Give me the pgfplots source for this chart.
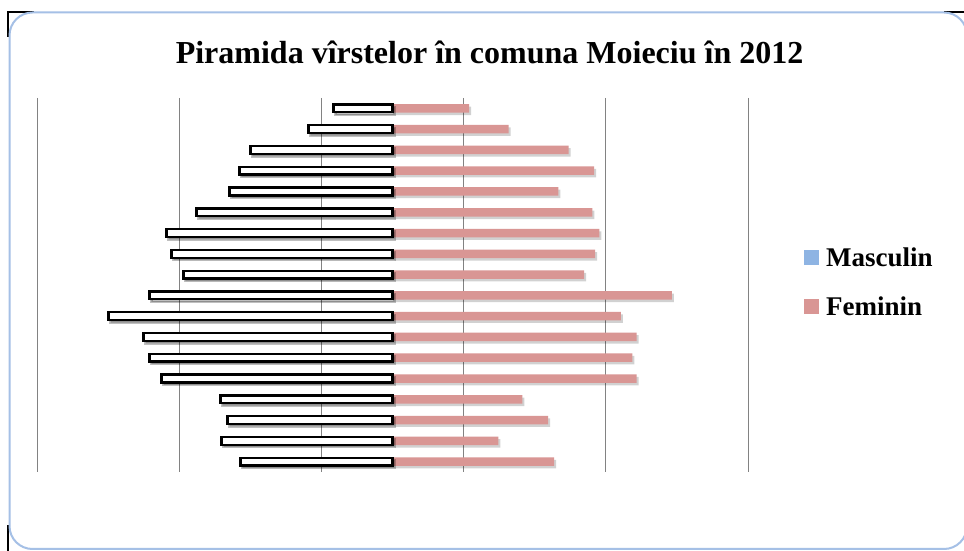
\documentclass[border=0pt]{standalone}
\usepackage{fontspec}
\setmainfont{Liberation Serif}
\usepackage{pgfplots}
\pgfplotsset{compat=1.18}
\usetikzlibrary{shadows}
\definecolor{fem}{RGB}{217,150,148}
\definecolor{masc}{RGB}{142,180,227}
\definecolor{framec}{RGB}{165,192,230}
\definecolor{gridc}{RGB}{130,130,130}
\begin{document}
\begin{tikzpicture}[x=1pt,y=1pt]
\useasboundingbox (0,0) rectangle (964,551);
\fill[white] (0,0) rectangle (964,551);
\draw[black, line width=1.5pt] (8,514) -- (8,539) -- (34,539);
\draw[black, line width=1.5pt] (944,539) -- (966,539);
\draw[black, line width=1.5pt] (8,0) -- (8,26);
\draw[framec, line width=2pt, fill=white, rounded corners=23pt] (9.5,2) rectangle (967,538.5);
\node[anchor=base, font=\fontsize{32}{38}\selectfont\bfseries, inner sep=0pt] at (489.5,487) {Piramida vîrstelor în comuna Moieciu în 2012};
\begin{axis}[
  at={(37pt,79pt)}, anchor=south west,
  scale only axis, width=711pt, height=374pt,
  xmin=-250, xmax=250, ymin=0.5, ymax=18.5, y dir=reverse,
  xtick={-250,-150,-50,50,150,250}, xticklabels={}, ytick=\empty,
  xmajorgrids, grid style={line width=1pt, color=gridc},
  axis line style={draw=none}, major tick length=0pt,
  clip=false,
  legend cell align=left,
  legend image code/.code={\fill[#1, draw=none] (0pt,-7.5pt) rectangle (15pt,7.5pt);},
  legend style={at={(axis description cs:1.0788,0.600)}, anchor=north west,
    draw=none, fill=none, inner sep=0pt, outer sep=0pt,
    font=\fontsize{27}{32}\selectfont\bfseries,
    column sep=7pt, row sep=28.6pt, nodes={inner sep=0pt}},
]
\addplot[xbar, bar width=8.5pt, bar shift=0pt, fill=fem, draw=none,
  drop shadow={shadow xshift=2pt, shadow yshift=-2.5pt, fill=black, opacity=0.18}, forget plot]
  coordinates {(53.9,1) (81.6,2) (123.8,3) (141.8,4) (116.7,5) (140.6,6) (145.4,7) (142.5,8) (134.8,9)
  (196.5,10) (160.6,11) (171.6,12) (168.6,13) (171.6,14) (91.4,15) (109.5,16) (74.5,17) (113.7,18)};
\addplot[xbar, bar width=7.8pt, bar shift=0pt, fill=white, draw=black, line width=2.4pt,
  drop shadow={shadow xshift=2pt, shadow yshift=-2.5pt, fill=black, opacity=0.25}, forget plot]
  coordinates {(-41.5,1) (-59.1,2) (-99.9,3) (-107.6,4) (-114.6,5) (-137.8,6) (-158.9,7) (-155.4,8) (-147.0,9)
  (-170.9,10) (-199.7,11) (-175.1,12) (-170.9,13) (-162.4,14) (-121.0,15) (-116.0,16) (-120.2,17) (-106.9,18)};
\addlegendimage{fill=masc, draw=none}
\addlegendentry{Masculin}
\addlegendimage{fill=fem, draw=none}
\addlegendentry{Feminin}
\end{axis}
\end{tikzpicture}
\end{document}
